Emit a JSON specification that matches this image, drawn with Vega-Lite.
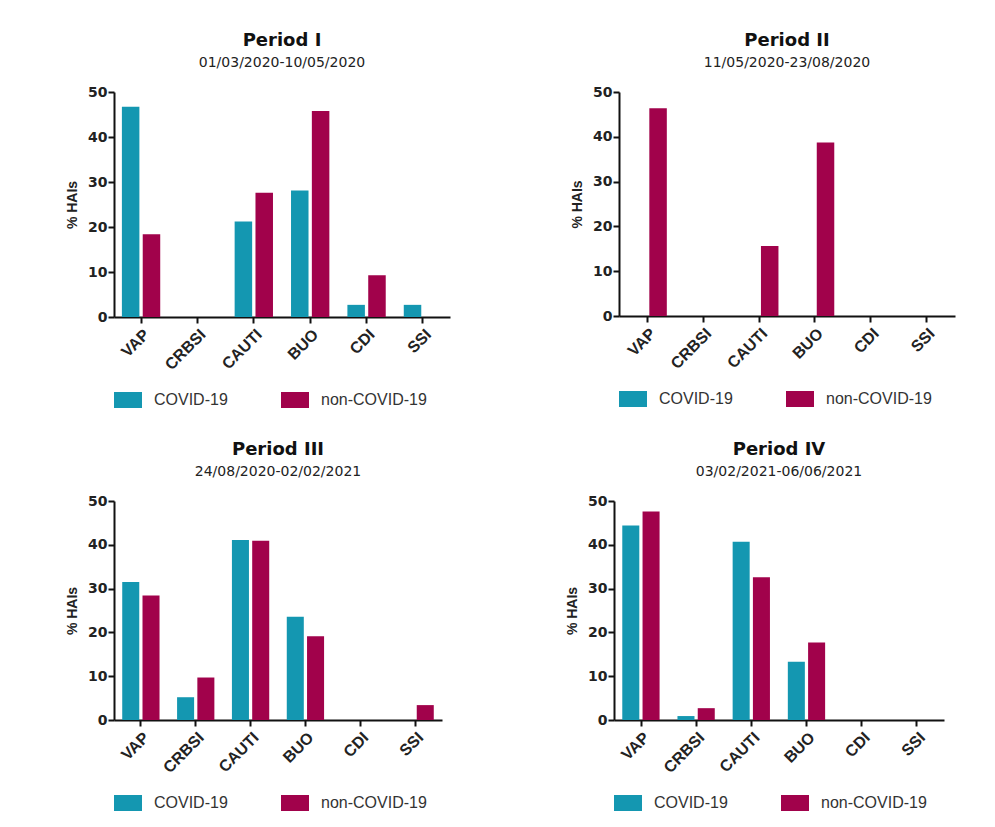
{
  "$schema": "https://vega.github.io/schema/vega-lite/v6.json",
  "padding": {"left": 65, "top": 32, "right": 5, "bottom": 5},
  "background": "white",
  "data": {"values": [
    {"period": "I", "type": "VAP", "group": "COVID-19", "value": 46.7},
    {"period": "I", "type": "VAP", "group": "non-COVID-19", "value": 18.4},
    {"period": "I", "type": "CRBSI", "group": "COVID-19", "value": 0},
    {"period": "I", "type": "CRBSI", "group": "non-COVID-19", "value": 0},
    {"period": "I", "type": "CAUTI", "group": "COVID-19", "value": 21.2},
    {"period": "I", "type": "CAUTI", "group": "non-COVID-19", "value": 27.6},
    {"period": "I", "type": "BUO", "group": "COVID-19", "value": 28.1},
    {"period": "I", "type": "BUO", "group": "non-COVID-19", "value": 45.8},
    {"period": "I", "type": "CDI", "group": "COVID-19", "value": 2.7},
    {"period": "I", "type": "CDI", "group": "non-COVID-19", "value": 9.3},
    {"period": "I", "type": "SSI", "group": "COVID-19", "value": 2.7},
    {"period": "I", "type": "SSI", "group": "non-COVID-19", "value": 0},
    {"period": "II", "type": "VAP", "group": "COVID-19", "value": 0},
    {"period": "II", "type": "VAP", "group": "non-COVID-19", "value": 46.4},
    {"period": "II", "type": "CRBSI", "group": "COVID-19", "value": 0},
    {"period": "II", "type": "CRBSI", "group": "non-COVID-19", "value": 0},
    {"period": "II", "type": "CAUTI", "group": "COVID-19", "value": 0},
    {"period": "II", "type": "CAUTI", "group": "non-COVID-19", "value": 15.6},
    {"period": "II", "type": "BUO", "group": "COVID-19", "value": 0},
    {"period": "II", "type": "BUO", "group": "non-COVID-19", "value": 38.7},
    {"period": "II", "type": "CDI", "group": "COVID-19", "value": 0},
    {"period": "II", "type": "CDI", "group": "non-COVID-19", "value": 0},
    {"period": "II", "type": "SSI", "group": "COVID-19", "value": 0},
    {"period": "II", "type": "SSI", "group": "non-COVID-19", "value": 0},
    {"period": "III", "type": "VAP", "group": "COVID-19", "value": 31.5},
    {"period": "III", "type": "VAP", "group": "non-COVID-19", "value": 28.4},
    {"period": "III", "type": "CRBSI", "group": "COVID-19", "value": 5.2},
    {"period": "III", "type": "CRBSI", "group": "non-COVID-19", "value": 9.7},
    {"period": "III", "type": "CAUTI", "group": "COVID-19", "value": 41.1},
    {"period": "III", "type": "CAUTI", "group": "non-COVID-19", "value": 40.9},
    {"period": "III", "type": "BUO", "group": "COVID-19", "value": 23.6},
    {"period": "III", "type": "BUO", "group": "non-COVID-19", "value": 19.1},
    {"period": "III", "type": "CDI", "group": "COVID-19", "value": 0},
    {"period": "III", "type": "CDI", "group": "non-COVID-19", "value": 0},
    {"period": "III", "type": "SSI", "group": "COVID-19", "value": 0},
    {"period": "III", "type": "SSI", "group": "non-COVID-19", "value": 3.4},
    {"period": "IV", "type": "VAP", "group": "COVID-19", "value": 44.4},
    {"period": "IV", "type": "VAP", "group": "non-COVID-19", "value": 47.6},
    {"period": "IV", "type": "CRBSI", "group": "COVID-19", "value": 0.9},
    {"period": "IV", "type": "CRBSI", "group": "non-COVID-19", "value": 2.7},
    {"period": "IV", "type": "CAUTI", "group": "COVID-19", "value": 40.7},
    {"period": "IV", "type": "CAUTI", "group": "non-COVID-19", "value": 32.6},
    {"period": "IV", "type": "BUO", "group": "COVID-19", "value": 13.3},
    {"period": "IV", "type": "BUO", "group": "non-COVID-19", "value": 17.7},
    {"period": "IV", "type": "CDI", "group": "COVID-19", "value": 0},
    {"period": "IV", "type": "CDI", "group": "non-COVID-19", "value": 0},
    {"period": "IV", "type": "SSI", "group": "COVID-19", "value": 0},
    {"period": "IV", "type": "SSI", "group": "non-COVID-19", "value": 0}
  ]},
  "vconcat": [
    {
      "hconcat": [
        {
          "title": {"text": "Period I", "subtitle": "01/03/2020-10/05/2020"},
          "width": 336, "height": 225,
          "transform": [{"filter": "datum.period === 'I'"}],
          "mark": {"type": "bar"},
          "encoding": {
            "x": {"field": "type", "type": "nominal", "sort": ["VAP", "CRBSI", "CAUTI", "BUO", "CDI", "SSI"], "scale": {"domain": ["VAP", "CRBSI", "CAUTI", "BUO", "CDI", "SSI"], "paddingInner": 0.32, "paddingOuter": 0.14}, "axis": {"title": null}},
            "xOffset": {"field": "group", "type": "nominal", "scale": {"domain": ["COVID-19", "non-COVID-19"], "paddingInner": 0.16, "paddingOuter": 0}},
            "y": {"field": "value", "type": "quantitative", "scale": {"domain": [0, 50], "nice": false}, "axis": {"title": "% HAIs", "values": [0, 10, 20, 30, 40, 50]}},
            "color": {"field": "group", "type": "nominal", "scale": {"domain": ["COVID-19", "non-COVID-19"], "range": ["#1497B1", "#A1024B"]}, "legend": {"title": null}}
          }
        },
        {
          "title": {"text": "Period II", "subtitle": "11/05/2020-23/08/2020"},
          "width": 336, "height": 224,
          "transform": [{"filter": "datum.period === 'II'"}],
          "mark": {"type": "bar"},
          "encoding": {
            "x": {"field": "type", "type": "nominal", "sort": ["VAP", "CRBSI", "CAUTI", "BUO", "CDI", "SSI"], "scale": {"domain": ["VAP", "CRBSI", "CAUTI", "BUO", "CDI", "SSI"], "paddingInner": 0.32, "paddingOuter": 0.17}, "axis": {"title": null}},
            "xOffset": {"field": "group", "type": "nominal", "scale": {"domain": ["COVID-19", "non-COVID-19"], "paddingInner": 0.16, "paddingOuter": 0}},
            "y": {"field": "value", "type": "quantitative", "scale": {"domain": [0, 50], "nice": false}, "axis": {"title": "% HAIs", "values": [0, 10, 20, 30, 40, 50]}},
            "color": {"field": "group", "type": "nominal", "scale": {"domain": ["COVID-19", "non-COVID-19"], "range": ["#1497B1", "#A1024B"]}, "legend": {"title": null}}
          }
        }
      ],
      "spacing": 120,
      "resolve": {"scale": {"color": "independent"}, "legend": {"color": "independent"}}
    },
    {
      "hconcat": [
        {
          "title": {"text": "Period III", "subtitle": "24/08/2020-02/02/2021"},
          "width": 328, "height": 219,
          "transform": [{"filter": "datum.period === 'III'"}],
          "mark": {"type": "bar"},
          "encoding": {
            "x": {"field": "type", "type": "nominal", "sort": ["VAP", "CRBSI", "CAUTI", "BUO", "CDI", "SSI"], "scale": {"domain": ["VAP", "CRBSI", "CAUTI", "BUO", "CDI", "SSI"], "paddingInner": 0.32, "paddingOuter": 0.15}, "axis": {"title": null}},
            "xOffset": {"field": "group", "type": "nominal", "scale": {"domain": ["COVID-19", "non-COVID-19"], "paddingInner": 0.16, "paddingOuter": 0}},
            "y": {"field": "value", "type": "quantitative", "scale": {"domain": [0, 50], "nice": false}, "axis": {"title": "% HAIs", "values": [0, 10, 20, 30, 40, 50]}},
            "color": {"field": "group", "type": "nominal", "scale": {"domain": ["COVID-19", "non-COVID-19"], "range": ["#1497B1", "#A1024B"]}, "legend": {"title": null}}
          }
        },
        {
          "title": {"text": "Period IV", "subtitle": "03/02/2021-06/06/2021"},
          "width": 330, "height": 219,
          "transform": [{"filter": "datum.period === 'IV'"}],
          "mark": {"type": "bar"},
          "encoding": {
            "x": {"field": "type", "type": "nominal", "sort": ["VAP", "CRBSI", "CAUTI", "BUO", "CDI", "SSI"], "scale": {"domain": ["VAP", "CRBSI", "CAUTI", "BUO", "CDI", "SSI"], "paddingInner": 0.32, "paddingOuter": 0.15}, "axis": {"title": null}},
            "xOffset": {"field": "group", "type": "nominal", "scale": {"domain": ["COVID-19", "non-COVID-19"], "paddingInner": 0.16, "paddingOuter": 0}},
            "y": {"field": "value", "type": "quantitative", "scale": {"domain": [0, 50], "nice": false}, "axis": {"title": "% HAIs", "values": [0, 10, 20, 30, 40, 50]}},
            "color": {"field": "group", "type": "nominal", "scale": {"domain": ["COVID-19", "non-COVID-19"], "range": ["#1497B1", "#A1024B"]}, "legend": {"title": null}}
          }
        }
      ],
      "spacing": 123,
      "resolve": {"scale": {"color": "independent"}, "legend": {"color": "independent"}}
    }
  ],
  "spacing": 33,
  "resolve": {"scale": {"color": "independent", "x": "independent", "y": "independent", "xOffset": "independent"}, "legend": {"color": "independent"}, "axis": {"x": "independent", "y": "independent"}},
  "config": {
    "font": "Liberation Sans",
    "view": {"stroke": null},
    "title": {"font": "DejaVu Sans", "fontSize": 18, "fontWeight": "bold", "color": "#111", "anchor": "middle", "frame": "group", "offset": 15, "subtitleFont": "DejaVu Sans", "subtitleFontSize": 14, "subtitleColor": "#222", "subtitlePadding": 6},
    "axis": {"domainColor": "#111", "domainWidth": 2, "tickColor": "#111", "tickWidth": 2, "tickSize": 6, "grid": false, "labelFontWeight": "bold", "labelColor": "#222", "titleFont": "Liberation Sans", "titleFontSize": 14, "titleFontWeight": "bold", "titleColor": "#222", "titlePadding": 8},
    "axisX": {"labelAngle": -45, "labelFont": "Liberation Sans", "labelFontSize": 16, "labelPadding": 3},
    "axisY": {"labelFont": "DejaVu Sans", "labelFontSize": 14, "labelPadding": 1},
    "legend": {"orient": "bottom", "direction": "horizontal", "symbolType": "M-1,-0.57L1,-0.57L1,0.57L-1,0.57Z", "symbolSize": 784, "symbolStrokeWidth": 0, "labelFont": "Liberation Sans", "labelFontSize": 16, "labelColor": "#333", "labelOffset": 12, "columnPadding": 53, "offset": 13, "padding": 0}
  }
}
